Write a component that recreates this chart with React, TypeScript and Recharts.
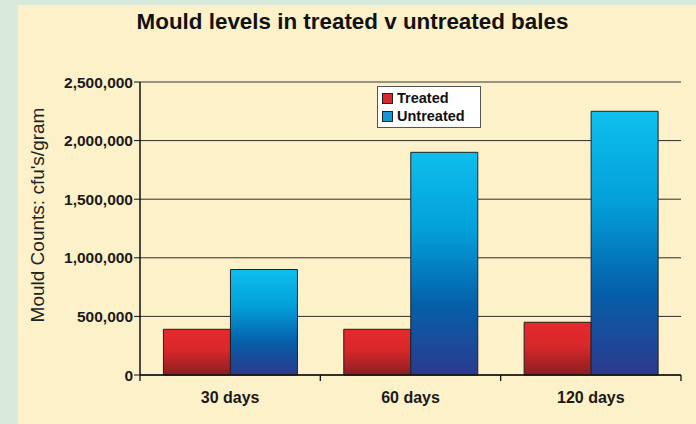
import React from "react"
import { BarChart, Bar, XAxis, YAxis, CartesianGrid, ReferenceLine } from "recharts"

const categories = ["30 days", "60 days", "120 days"]
const treated = [390000, 390000, 450000]
const untreated = [900000, 1900000, 2250000]
const yTicks = [0, 500000, 1000000, 1500000, 2000000, 2500000]
const seriesNames = ["Treated", "Untreated"]

const data = categories.map((name, i) => ({ name, treated: treated[i], untreated: untreated[i] }))

const FONT = "'Liberation Sans', Arial, Helvetica, sans-serif"
const CHART_W = 678
const CHART_H = 419
const MARGIN = { top: 77, right: 15, bottom: 19, left: 42 }
const Y_W = 80
const PLOT_W = CHART_W - MARGIN.left - MARGIN.right - Y_W
const HALF_BAND = PLOT_W / categories.length / 2

const legendColors = ["#d8282c", "#1596d6"]

function XTick({ x, y, payload, index }: any) {
    const last = index === categories.length - 1
    return (
        <g>
            <line x1={x - HALF_BAND} y1={y} x2={x - HALF_BAND} y2={y + 6} stroke="#111" strokeWidth={1.3} />
            {last && <line x1={x + HALF_BAND} y1={y} x2={x + HALF_BAND} y2={y + 6} stroke="#111" strokeWidth={1.3} />}
            <text x={x} y={y + 22} dy="0.355em" textAnchor="middle" fontFamily={FONT} fontWeight="bold" fontSize={16} fill="#1a1a1a">
                {payload.value}
            </text>
        </g>
    )
}

function YLabel({ viewBox }: any) {
    const cx = viewBox.x - 23
    const cy = 210
    return (
        <text x={cx} y={cy} transform={`rotate(-90, ${cx}, ${cy})`} textAnchor="middle" dominantBaseline="central"
            fontFamily={FONT} fontSize={19} fill="#222">
            Mould Counts: cfu's/gram
        </text>
    )
}

function LegendBox() {
    return (
        <div style={{ position: "absolute", left: 359, top: 81, background: "#fff", border: "1px solid #555", width: 98, padding: "2px 0 2px 4px", fontFamily: FONT }}>
            {seriesNames.map((n, i) => (
                <div key={n} style={{ display: "flex", alignItems: "center", height: 18 }}>
                    <span style={{ width: 9, height: 9, background: legendColors[i], border: "1px solid #222", marginRight: 4 }} />
                    <span style={{ fontWeight: "bold", fontSize: 14.5, color: "#111" }}>{n}</span>
                </div>
            ))}
        </div>
    )
}

export default function App() {
    return (
        <div style={{ position: "fixed", left: 0, top: 0, width: 696, height: 424, background: "#d8eadb" }}>
            <div style={{ position: "absolute", left: 18, top: 5, width: 678, height: 419, background: "#fdf1c9" }}>
                <div style={{ position: "absolute", left: 0, top: 4, width: 669, textAlign: "center", fontFamily: FONT, fontWeight: "bold", fontSize: 22.4, lineHeight: "26px", color: "#111" }}>
                    Mould levels in treated v untreated bales
                </div>
                <BarChart width={CHART_W} height={CHART_H} data={data} margin={MARGIN} barCategoryGap="13%" barGap={0}>
                    <defs>
                        <linearGradient id="gTreated" x1="0" y1="0" x2="0" y2="1">
                            <stop offset="0" stopColor="#e6292d" />
                            <stop offset="0.45" stopColor="#d8282b" />
                            <stop offset="1" stopColor="#8a1e22" />
                        </linearGradient>
                        <linearGradient id="gUntreated" x1="0" y1="0" x2="0" y2="1">
                            <stop offset="0" stopColor="#0ebfec" />
                            <stop offset="0.35" stopColor="#039fda" />
                            <stop offset="0.68" stopColor="#0560aa" />
                            <stop offset="1" stopColor="#2c3a8d" />
                        </linearGradient>
                    </defs>
                    <CartesianGrid vertical={false} stroke="#2b2b2b" strokeWidth={1} />
                    <XAxis dataKey="name" axisLine={{ stroke: "#111", strokeWidth: 1.5 }} tickLine={false} tickSize={0} tickMargin={0}
                        tick={<XTick />} height={30} interval={0} />
                    <YAxis width={Y_W} domain={[0, 2500000]} ticks={yTicks} interval={0}
                        tickFormatter={(v: number) => v.toLocaleString("en-US")}
                        axisLine={{ stroke: "#111", strokeWidth: 1.5 }} tickLine={{ stroke: "#111" }} tickSize={6} tickMargin={1}
                        tick={{ fontFamily: FONT, fontWeight: "bold", fontSize: 15.5, fill: "#1a1a1a" }}
                        label={<YLabel />} />
                    <YAxis yAxisId="right" orientation="right" width={0} tick={false} tickLine={false} axisLine={{ stroke: "#999" }} />
                    <ReferenceLine y={2500000} stroke="#999" strokeWidth={1} />
                    <Bar dataKey="treated" name="Treated" fill="url(#gTreated)" stroke="#222" strokeWidth={1} isAnimationActive={false} />
                    <Bar dataKey="untreated" name="Untreated" fill="url(#gUntreated)" stroke="#222" strokeWidth={1} isAnimationActive={false} />
                </BarChart>
                <LegendBox />
            </div>
        </div>
    )
}
